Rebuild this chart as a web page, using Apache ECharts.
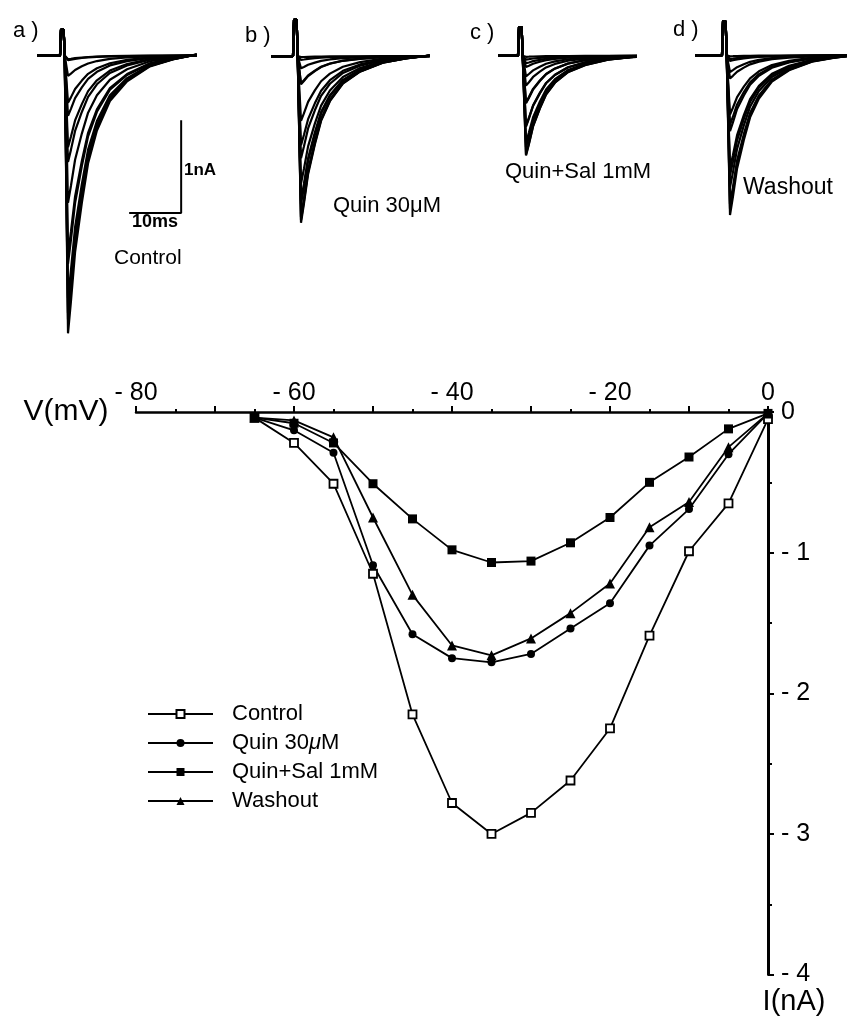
<!DOCTYPE html>
<html>
<head>
<meta charset="utf-8">
<script src="https://cdn.jsdelivr.net/npm/echarts@6/dist/echarts.min.js"></script>
<style>
  html, body { margin: 0; padding: 0; background: #fff; }
  #chart { width: 847px; height: 1016px; }
</style>
</head>
<body>
<div id="chart"></div>
<script>
// I-V relation, test potential in mV, peak current in nA
var voltages = [-65, -60, -55, -50, -45, -40, -35, -30, -25, -20, -15, -10, -5, 0];
var controlI = [-0.04, -0.22, -0.51, -1.15, -2.15, -2.78, -3.00, -2.85, -2.62, -2.25, -1.59, -0.99, -0.65, -0.05];
var quinI = [-0.04, -0.13, -0.29, -1.09, -1.58, -1.75, -1.78, -1.72, -1.54, -1.36, -0.95, -0.69, -0.30, -0.01];
var quinSalI = [-0.04, -0.08, -0.22, -0.51, -0.76, -0.98, -1.07, -1.06, -0.93, -0.75, -0.50, -0.32, -0.12, -0.01];
var washoutI = [-0.04, -0.06, -0.18, -0.75, -1.30, -1.66, -1.73, -1.61, -1.43, -1.22, -0.82, -0.64, -0.25, -0.01];

var xTicks = [-80, -60, -40, -20, 0];
var yTicks = [-4, -3, -2, -1, 0];

// current sweeps: normalised waveform of the biggest sweep (ms after step onset)
var shapeT = [1.0, 1.54, 2.1, 2.9, 4.2, 5.4, 7.1, 9.6, 12.9, 17.3, 21.7, 26.3];
var shapeI = [0, -1, -0.886, -0.708, -0.53, -0.388, -0.27, -0.164, -0.093, -0.039, -0.014, 0.004];
// capacity transient at the step, relative height, and its size per panel (nA)
var artifactT = [-6, 0, 0.2, 0.7, 0.9];
var artifactI = [0, 0, 1, 1, 0];
var artifactPeak = [0.28, 0.39, 0.31, 0.37];

var font = "Liberation Sans, Arial, Helvetica, sans-serif";
var msPx = 5.2;
var nAPx = 94;

var panels = [
  { label: "a )", data: controlI, onsetX: 60, baseY: 51, tMin: -4.2, tMax: 26.5 },
  { label: "b )", data: quinI, onsetX: 293, baseY: 55, tMin: -4.0, tMax: 26.3 },
  { label: "c )", data: quinSalI, onsetX: 518, baseY: 53, tMin: -3.5, tMax: 22.5 },
  { label: "d )", data: washoutI, onsetX: 722, baseY: 50, tMin: -4.8, tMax: 23.7 }
];

var chart = echarts.init(document.getElementById("chart"));

var grids = [{ left: 136, top: 412, width: 632, height: 563 }];
var xAxes = [{
  type: "value",
  gridIndex: 0,
  position: "top",
  min: -80,
  max: 0,
  interval: 10,
  axisLine: { onZero: false, lineStyle: { color: "#000", width: 2.5 } },
  axisTick: { length: 6, lineStyle: { color: "#000", width: 2 } },
  minorTick: { show: true, splitNumber: 2, length: 3, lineStyle: { color: "#000", width: 2 } },
  splitLine: { show: false },
  axisLabel: {
    margin: 6,
    color: "#000",
    fontSize: 25,
    fontFamily: font,
    formatter: function (v) {
      if (xTicks.indexOf(v) < 0) return "";
      return v === 0 ? "0" : "- " + (-v);
    }
  },
  name: "V(mV)",
  nameLocation: "start",
  nameGap: 14,
  nameTextStyle: { color: "#000", fontSize: 30, fontFamily: font, padding: [0, 0, 12, 0] }
}];
var yAxes = [{
  type: "value",
  gridIndex: 0,
  position: "right",
  min: -4,
  max: 0,
  interval: 1,
  axisLine: { onZero: false, lineStyle: { color: "#000", width: 3 } },
  axisTick: { length: 6, lineStyle: { color: "#000", width: 2 } },
  minorTick: { show: true, splitNumber: 2, length: 4, lineStyle: { color: "#000", width: 2 } },
  splitLine: { show: false },
  axisLabel: {
    margin: 13,
    color: "#000",
    fontSize: 25,
    fontFamily: font,
    formatter: function (v) {
      if (yTicks.indexOf(v) < 0) return "";
      return v === 0 ? "0" : "- " + (-v);
    }
  },
  name: "I(nA)",
  nameLocation: "start",
  nameGap: 8,
  nameTextStyle: { color: "#000", fontSize: 29, fontFamily: font, padding: [0, 0, 0, 52] }
}];

function ivSeries(name, arr, symbol, size, fill) {
  return {
    name: name,
    type: "line",
    xAxisIndex: 0,
    yAxisIndex: 0,
    data: voltages.map(function (v, i) { return [v, arr[i]]; }),
    symbol: symbol,
    symbolSize: size,
    showAllSymbol: true,
    z: 5,
    lineStyle: { color: "#000", width: 1.8 },
    itemStyle: { color: fill, borderColor: "#000", borderWidth: fill === "#fff" ? 1.8 : 0 }
  };
}

var series = [
  ivSeries("Control", controlI, "rect", 8, "#fff"),
  ivSeries("Quin 30{i|\u03bc}M", quinI, "circle", 8, "#000"),
  ivSeries("Quin+Sal 1mM", quinSalI, "rect", 9, "#000"),
  ivSeries("Washout", washoutI, "triangle", 10, "#000")
];

var graphics = [];

panels.forEach(function (p, k) {
  var gi = k + 1;
  grids.push({
    left: p.onsetX + p.tMin * msPx,
    top: p.baseY - 0.6 * nAPx,
    width: (p.tMax - p.tMin) * msPx,
    height: 3.8 * nAPx
  });
  xAxes.push({ type: "value", gridIndex: gi, min: p.tMin, max: p.tMax, show: false });
  yAxes.push({ type: "value", gridIndex: gi, min: -3.2, max: 0.6, show: false });

  p.data.forEach(function (peak) {
    var pts = [];
    artifactT.forEach(function (t, m) { pts.push([t, artifactI[m] * artifactPeak[k]]); });
    shapeT.forEach(function (t, m) { pts.push([t, shapeI[m] * -peak]); });
    series.push({
      type: "line",
      xAxisIndex: gi,
      yAxisIndex: gi,
      data: pts,
      symbol: "none",
      silent: true,
      z: 2,
      lineStyle: { color: "#000", width: 2.2 }
    });
  });

  graphics.push({
    type: "text",
    left: [13, 245, 470, 673][k],
    top: [20, 25, 22, 19][k],
    style: { text: p.label, font: "22px " + font, fill: "#000" }
  });
});

// scale bar: 10 ms by 1 nA in panel a
series.push({
  type: "line",
  xAxisIndex: 1,
  yAxisIndex: 1,
  data: [[13.3, -1.7], [23.3, -1.7], [23.3, -0.7]],
  symbol: "none",
  silent: true,
  lineStyle: { color: "#000", width: 2 }
});

graphics.push(
  { type: "text", left: 184, top: 162, style: { text: "1nA", font: "bold 17px " + font, fill: "#000" } },
  { type: "text", left: 132, top: 213, style: { text: "10ms", font: "bold 18px " + font, fill: "#000" } },
  { type: "text", left: 114, top: 248, style: { text: "Control", font: "21px " + font, fill: "#000" } },
  { type: "text", left: 333, top: 195, style: { text: "Quin 30\u03bcM", font: "22px " + font, fill: "#000" } },
  { type: "text", left: 505, top: 161, style: { text: "Quin+Sal 1mM", font: "22px " + font, fill: "#000" } },
  { type: "text", left: 743, top: 176, style: { text: "Washout", font: "23px " + font, fill: "#000" } }
);

chart.setOption({
  animation: false,
  backgroundColor: "#fff",
  grid: grids,
  xAxis: xAxes,
  yAxis: yAxes,
  legend: {
    data: ["Control", "Quin 30{i|\u03bc}M", "Quin+Sal 1mM", "Washout"],
    orient: "vertical",
    left: 142,
    top: 698,
    itemWidth: 65,
    itemHeight: 10,
    itemGap: 7,
    selectedMode: false,
    textStyle: {
      color: "#000",
      fontSize: 22,
      lineHeight: 22,
      fontFamily: font,
      padding: [0, 0, 0, 14],
      rich: { i: { fontSize: 22, fontStyle: "italic", fontFamily: font } }
    }
  },
  graphic: graphics,
  series: series
});
</script>
</body>
</html>
